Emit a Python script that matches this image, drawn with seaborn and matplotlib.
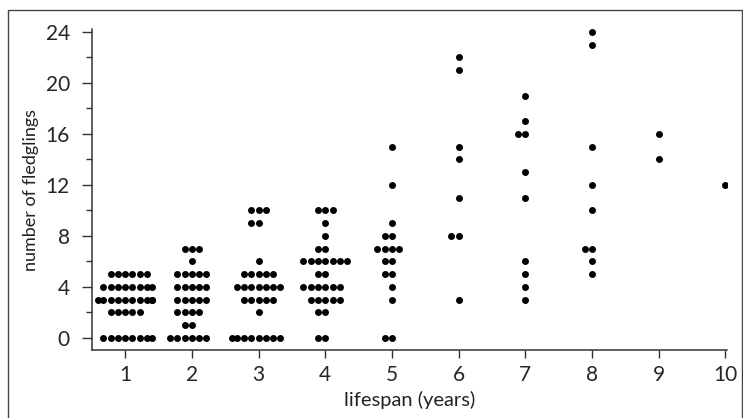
import numpy as np
import pandas as pd
import matplotlib
matplotlib.use("Agg")
import matplotlib.pyplot as plt
from matplotlib.patches import Rectangle
from matplotlib.ticker import MultipleLocator
import seaborn as sns

import warnings
warnings.filterwarnings("ignore")

# fledgling counts per lifespan: value -> how many birds
vals_1 = [5, 4, 3, 2, 0]
counts_1 = [6, 8, 10, 5, 8]
vals_2 = [7, 6, 5, 4, 3, 2, 1, 0]
counts_2 = [3, 1, 5, 5, 5, 4, 2, 6]
vals_3 = [10, 9, 6, 5, 4, 3, 2, 0]
counts_3 = [3, 2, 1, 5, 7, 5, 1, 8]
vals_4 = [10, 9, 8, 7, 6, 5, 4, 3, 2, 0]
counts_4 = [3, 1, 1, 2, 7, 2, 6, 5, 2, 2]
vals_5 = [15, 12, 9, 8, 7, 6, 5, 4, 3, 0]
counts_5 = [1, 1, 1, 2, 4, 2, 2, 1, 1, 2]
fledglings_6 = [22, 21, 15, 14, 11, 8, 8, 3]
fledglings_7 = [19, 17, 16, 16, 13, 11, 6, 5, 4, 3]
fledglings_8 = [24, 23, 15, 12, 10, 7, 7, 6, 5]
fledglings_9 = [16, 14]
fledglings_10 = [12]

groups = {
    1: np.repeat(vals_1, counts_1),
    2: np.repeat(vals_2, counts_2),
    3: np.repeat(vals_3, counts_3),
    4: np.repeat(vals_4, counts_4),
    5: np.repeat(vals_5, counts_5),
    6: fledglings_6,
    7: fledglings_7,
    8: fledglings_8,
    9: fledglings_9,
    10: fledglings_10,
}
df = pd.concat([pd.DataFrame({"lifespan": k, "fledglings": v}) for k, v in groups.items()],
               ignore_index=True)

sns.set_style("white")
plt.rcParams["font.family"] = ["Lato", "DejaVu Sans"]

fig = plt.figure(figsize=(7.43, 4.18), dpi=100)
ax = fig.add_axes([0.124, 0.163, 0.855, 0.767])

sns.swarmplot(data=df, x="lifespan", y="fledglings", native_scale=True,
              color="black", size=5.0, linewidth=0, ax=ax)

ax.set_xlim(0.505, 10.03)
ax.set_ylim(-0.94, 24.2)
ax.set_xticks(range(1, 11))
ax.set_yticks(range(0, 25, 4))
ax.yaxis.set_minor_locator(MultipleLocator(2))

sns.despine(ax=ax)
for s in ["left", "bottom"]:
    ax.spines[s].set_color("#333333")
    ax.spines[s].set_linewidth(1.1)

ax.tick_params(axis="y", which="major", direction="out", length=7, width=1,
               color="#333333", labelsize=15, pad=9, left=True)
ax.tick_params(axis="y", which="minor", direction="out", length=4, width=1,
               color="#333333", left=True)
ax.tick_params(axis="x", which="major", direction="out", length=6, width=1,
               color="#333333", labelsize=15, pad=5, bottom=True)

ax.set_xlabel("lifespan (years)", fontsize=14.5, labelpad=4, color="#222222")
ax.set_ylabel("number of fledglings", fontsize=13, labelpad=5, color="#222222")

# thin frame around the whole figure
fig.add_artist(Rectangle((0.011, -0.01), 0.987, 0.986, transform=fig.transFigure,
                         fill=False, lw=1, edgecolor="#444444"))

fig.savefig("out.png", dpi=100)
